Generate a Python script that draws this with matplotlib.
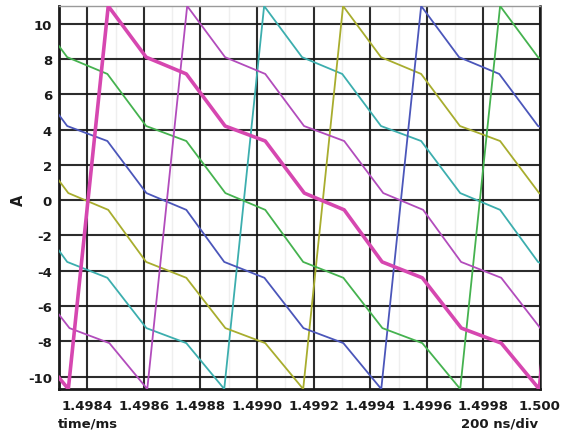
import matplotlib
matplotlib.use("Agg")
import matplotlib.pyplot as plt
from matplotlib.ticker import FixedLocator

# ---- data (time in ms, current in A) ----
t_mag_thick = [1.498199, 1.498333, 1.498474, 1.498608, 1.498750, 1.498887, 1.499029, 1.499167,
               1.499308, 1.499442, 1.499584, 1.499722, 1.499863, 1.499997, 1.500138]
i_mag_thick = [-8.1, -10.7, 11.0, 8.1, 7.15, 4.2, 3.35, 0.4, -0.55, -3.5, -4.4, -7.25, -8.1, -10.7, 11.0]

t_mag_thin = [1.498199, 1.498337, 1.498478, 1.498612, 1.498753, 1.498887, 1.499029, 1.499166,
              1.499308, 1.499446, 1.499587, 1.499721, 1.499863, 1.500001]
i_mag_thin = [-4.4, -7.25, -8.1, -10.7, 11.0, 8.1, 7.15, 4.2, 3.35, 0.4, -0.55, -3.5, -4.4, -7.25]

t_teal = [1.498054, 1.498195, 1.498329, 1.498471, 1.498609, 1.498750, 1.498884, 1.499025,
          1.499159, 1.499301, 1.499438, 1.499580, 1.499718, 1.499859, 1.499993, 1.500135]
i_teal = [0.4, -0.55, -3.5, -4.4, -7.25, -8.1, -10.7, 11.0, 8.1, 7.15, 4.2, 3.35, 0.4, -0.55, -3.5, -4.4]

t_olive = [1.498053, 1.498195, 1.498333, 1.498474, 1.498608, 1.498750, 1.498888, 1.499029,
           1.499163, 1.499304, 1.499438, 1.499580, 1.499717, 1.499859, 1.499997, 1.500138]
i_olive = [4.2, 3.35, 0.4, -0.55, -3.5, -4.4, -7.25, -8.1, -10.7, 11.0, 8.1, 7.15, 4.2, 3.35, 0.4, -0.55]

t_blue = [1.498050, 1.498192, 1.498329, 1.498471, 1.498609, 1.498750, 1.498884, 1.499026,
          1.499164, 1.499305, 1.499439, 1.499580, 1.499714, 1.499856, 1.499993, 1.500135]
i_blue = [8.1, 7.15, 4.2, 3.35, 0.4, -0.55, -3.5, -4.4, -7.25, -8.1, -10.7, 11.0, 8.1, 7.15, 4.2, 3.35]

t_green = [1.498195, 1.498329, 1.498471, 1.498608, 1.498750, 1.498888, 1.499029, 1.499163,
           1.499305, 1.499443, 1.499584, 1.499718, 1.499859, 1.499993, 1.500135]
i_green = [11.0, 8.1, 7.15, 4.2, 3.35, 0.4, -0.55, -3.5, -4.4, -7.25, -8.1, -10.7, 11.0, 8.1, 7.15]

x_ticks = [1.4984, 1.4986, 1.4988, 1.4990, 1.4992, 1.4994, 1.4996, 1.4998, 1.5000]
x_tick_labels = ["1.4984", "1.4986", "1.4988", "1.4990", "1.4992", "1.4994", "1.4996", "1.4998", "1.500"]
x_minor = [1.4983, 1.4985, 1.4987, 1.4989, 1.4991, 1.4993, 1.4995, 1.4997, 1.4999]
y_ticks = [-10, -8, -6, -4, -2, 0, 2, 4, 6, 8, 10]
y_tick_labels = ["-10", "-8", "-6", "-4", "-2", "0", "2", "4", "6", "8", "10"]

# ---- figure ----
fig = plt.figure(figsize=(5.67, 4.39), dpi=100)
ax = fig.add_axes([59 / 567, 1 - 390 / 439, 481 / 567, 383 / 439])
ax.set_xlim(1.4983, 1.5000)
ax.set_ylim(-10.7, 11.0)

ax.xaxis.set_major_locator(FixedLocator(x_ticks))
ax.xaxis.set_minor_locator(FixedLocator(x_minor))
ax.yaxis.set_major_locator(FixedLocator(y_ticks))
ax.grid(which="major", color="#151515", lw=1.5, alpha=0.9, zorder=1)
ax.grid(which="minor", axis="x", color="#efefef", lw=1.0, zorder=0)
ax.set_axisbelow(True)

lw_thin = 1.3
ax.plot(t_teal, i_teal, color="#3caeae", lw=lw_thin, zorder=3)
ax.plot(t_olive, i_olive, color="#a8ad2e", lw=lw_thin, zorder=3)
ax.plot(t_blue, i_blue, color="#4b56ba", lw=lw_thin, zorder=3)
ax.plot(t_green, i_green, color="#45b24f", lw=lw_thin, zorder=3)
ax.plot(t_mag_thin, i_mag_thin, color="#b24cbc", lw=lw_thin, zorder=3)
ax.plot(t_mag_thick, i_mag_thick, color="#d647b0", lw=2.6, zorder=4)

ax.set_xticklabels(x_tick_labels)
ax.set_yticklabels(y_tick_labels)
ax.tick_params(which="both", length=0)
ax.tick_params(axis="x", pad=7, labelsize=9.5)
ax.tick_params(axis="y", pad=5, labelsize=9.5)
for lab in ax.get_xticklabels() + ax.get_yticklabels():
    lab.set_fontweight("bold")
    lab.set_color("#1a1a1a")

for side in ("left", "bottom"):
    ax.spines[side].set_linewidth(2.0)
    ax.spines[side].set_color("#1a1a1a")
ax.spines["right"].set_linewidth(1.8)
ax.spines["right"].set_color("#1a1a1a")
ax.spines["top"].set_linewidth(1.0)
ax.spines["top"].set_color("#9a9a9a")

fig.text(18 / 567, 1 - 200 / 439, "A", rotation=90, ha="center", va="center",
         fontsize=10.5, fontweight="bold", color="#1a1a1a")
fig.text(58 / 567, 1 - 424 / 439, "time/ms", ha="left", va="center",
         fontsize=9.5, fontweight="bold", color="#1a1a1a")
fig.text(538 / 567, 1 - 424 / 439, "200 ns/div", ha="right", va="center",
         fontsize=9.5, fontweight="bold", color="#1a1a1a")

fig.savefig("out.png", dpi=100)
